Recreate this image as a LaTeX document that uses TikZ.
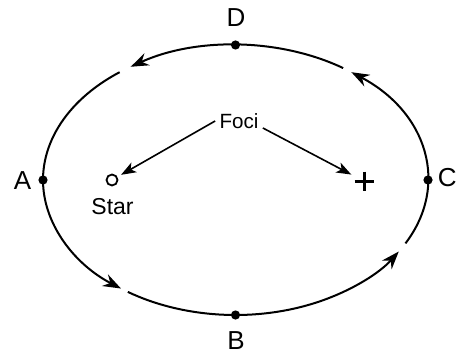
\documentclass[tikz,border=0pt]{standalone}
\usepackage{fontspec}
\setmainfont{Liberation Sans}
\usetikzlibrary{arrows.meta,calc}
\begin{document}
\begin{tikzpicture}[x=0.5pt,y=0.5pt,
  orbit/.style={line width=1pt, -{Stealth[length=9pt,width=6.5pt,inset=3pt]}},
  dot/.style={circle, fill=black, inner sep=0pt, minimum size=4.6pt},
  ptlabel/.style={font=\fontsize{13}{15}\selectfont, inner sep=0pt},
  smalltext/.style={font=\fontsize{11.5}{13}\selectfont},
  fociarrow/.style={line width=0.8pt, -{Stealth[length=7.5pt,width=5.5pt,inset=2pt]}}
]
\useasboundingbox (0,0) rectangle (458,358);
\coordinate (o) at (235.5,178);
% orbit arcs
\draw[orbit] ($(o)+(127:192.5 and 135)$) arc[start angle=127, end angle=233.5, x radius=96.25pt, y radius=67.5pt];
\draw[orbit] ($(o)+(236:192.5 and 135)$) arc[start angle=236, end angle=328, x radius=96.25pt, y radius=67.5pt];
\draw[orbit] ($(o)+(332:192.5 and 135)$) arc[start angle=332, end angle=413, x radius=96.25pt, y radius=67.5pt];
\draw[orbit] ($(o)+(56:192.5 and 135)$) arc[start angle=56, end angle=123, x radius=96.25pt, y radius=67.5pt];
% points
\node[dot] (A) at ($(o)+(180:192.5 and 135)$) {};
\node[dot] (B) at ($(o)+(270:192.5 and 135)$) {};
\node[dot] (C) at ($(o)+(0:192.5 and 135)$) {};
\node[dot] (D) at ($(o)+(90:192.5 and 135)$) {};
\node[ptlabel] (lA) at (22.5,177) {A};
\node[ptlabel] (lB) at (236,17) {B};
\node[ptlabel, anchor=east] (lC) at (457,180.5) {C};
\node[ptlabel] (lD) at (236,340.5) {D};
% foci
\node[circle, draw, line width=0.9pt, minimum size=5.5pt, inner sep=0pt] (star) at (112,178) {};
\node[smalltext] (starlabel) at (112.5,151) {Star};
\node[circle, minimum size=9.5pt, inner sep=0pt] (plus) at (364.5,176.5) {};
\draw[line width=1.5pt] (plus.west) -- (plus.east);
\draw[line width=1.5pt] (plus.north) -- (plus.south);
\node[font=\fontsize{10.3}{12}\selectfont, inner sep=2pt] (foci) at (239,237) {Foci};
\draw[fociarrow, shorten >=2pt] (foci.west) -- (star);
\draw[fociarrow, shorten >=2.5pt] ([yshift=-3.5pt]foci.east) -- (plus);
\end{tikzpicture}
\end{document}
